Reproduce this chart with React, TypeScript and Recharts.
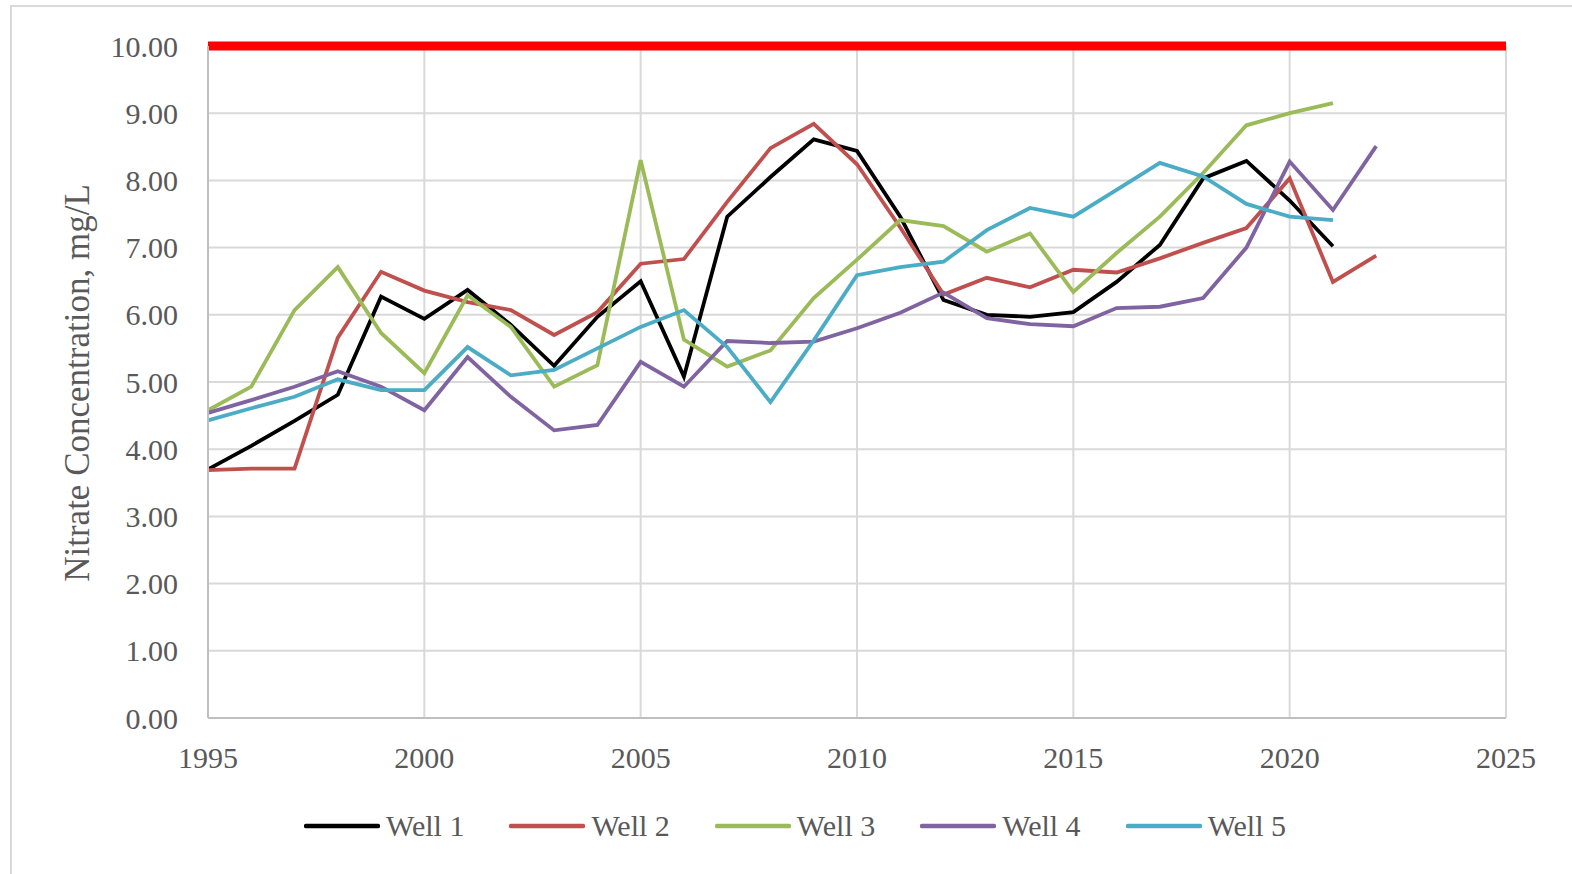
import React from "react";
import {
  CartesianGrid,
  Legend,
  Line,
  LineChart,
  ReferenceLine,
  XAxis,
  YAxis,
} from "recharts";

const years = [
  1995, 1996, 1997, 1998, 1999, 2000, 2001, 2002, 2003, 2004, 2005, 2006, 2007,
  2008, 2009, 2010, 2011, 2012, 2013, 2014, 2015, 2016, 2017, 2018, 2019, 2020,
  2021, 2022,
];

const well1 = [
  3.7, 4.05, 4.42, 4.81, 6.27, 5.94, 6.37, 5.85, 5.24, 5.97, 6.5, 5.08, 7.46,
  8.05, 8.61, 8.44, 7.46, 6.22, 6.0, 5.97, 6.04, 6.49, 7.04, 8.03, 8.29, 7.7,
  7.02, null,
];
const well2 = [
  3.69, 3.71, 3.71, 5.66, 6.64, 6.36, 6.19, 6.07, 5.7, 6.04, 6.76, 6.83, 7.68,
  8.48, 8.84, 8.24, 7.3, 6.3, 6.55, 6.41, 6.67, 6.63, 6.84, 7.07, 7.29, 8.03,
  6.49, 6.88,
];
const well3 = [
  4.58, 4.93, 6.07, 6.71, 5.73, 5.13, 6.29, 5.82, 4.93, 5.25, 8.3, 5.63, 5.23,
  5.47, 6.25, 6.82, 7.41, 7.32, 6.94, 7.21, 6.34, 6.92, 7.46, 8.11, 8.82, 9.0,
  9.15, null,
];
const well4 = [
  4.54, 4.73, 4.93, 5.16, 4.93, 4.58, 5.37, 4.78, 4.28, 4.36, 5.3, 4.93, 5.61,
  5.58, 5.6, 5.8, 6.03, 6.33, 5.95, 5.86, 5.83, 6.1, 6.12, 6.25, 7.0, 8.28,
  7.56, 8.51,
];
const well5 = [
  4.43, 4.61, 4.78, 5.04, 4.88, 4.88, 5.52, 5.1, 5.18, 5.5, 5.82, 6.07, 5.52,
  4.7, 5.62, 6.59, 6.71, 6.79, 7.26, 7.59, 7.46, 7.86, 8.26, 8.06, 7.65, 7.46,
  7.41, null,
];

const xTicks = [1995, 2000, 2005, 2010, 2015, 2020, 2025];
const yTicks = [0, 1, 2, 3, 4, 5, 6, 7, 8, 9, 10];
const limit = 10;

const seriesNames = ["Well 1", "Well 2", "Well 3", "Well 4", "Well 5"];
const seriesColors = ["#000000", "#c0504d", "#9bbb59", "#8064a2", "#4bacc6"];
const seriesValues = [well1, well2, well3, well4, well5];

const chartData = years.map((year, i) => {
  const row: Record<string, number | null> = { year };
  seriesNames.forEach((name, s) => {
    row[name] = seriesValues[s][i];
  });
  return row;
});

const FONT = "'Liberation Serif', 'Times New Roman', serif";
const TEXT = "#595959";

const LegendContent = () => (
  <div style={{ display: "flex", alignItems: "center" }}>
    {seriesNames.map((name, i) => (
      <div
        key={name}
        style={{ display: "flex", alignItems: "center", marginRight: 45 }}
      >
        <svg width={76} height={10}>
          <line
            x1={2}
            y1={5}
            x2={74}
            y2={5}
            stroke={seriesColors[i]}
            strokeWidth={4.5}
            strokeLinecap="round"
          />
        </svg>
        <span
          style={{
            fontFamily: FONT,
            fontSize: 30,
            color: TEXT,
            marginLeft: 6,
            lineHeight: "34px",
          }}
        >
          {name}
        </span>
      </div>
    ))}
  </div>
);

const YLabel = () => (
  <text
    x={77}
    y={383}
    transform="rotate(-90 77 383)"
    textAnchor="middle"
    dominantBaseline="central"
    fill={TEXT}
    fontFamily={FONT}
    fontSize={35}
  >
    Nitrate Concentration, mg/L
  </text>
);

export default function App() {
  return (
    <div
      style={{
        position: "absolute",
        left: 0,
        top: 0,
        width: 1572,
        height: 874,
        background: "#fff",
        overflow: "hidden",
      }}
    >
      <div
        style={{
          position: "absolute",
          left: 10,
          top: 5,
          width: 1600,
          height: 900,
          borderLeft: "2px solid #d9d9d9",
          borderTop: "2px solid #d9d9d9",
        }}
      />
      <div style={{ position: "absolute", left: 0, top: 0 }}>
        <LineChart
          width={1572}
          height={874}
          data={chartData}
          margin={{ top: 46, right: 66, bottom: 0, left: 0 }}
        >
          <CartesianGrid stroke="#d9d9d9" strokeWidth={2} />
          <XAxis
            dataKey="year"
            type="number"
            domain={[1995, 2025]}
            ticks={xTicks}
            height={156}
            tickLine={false}
            tickSize={0}
            tickMargin={29}
            axisLine={{ stroke: "#bfbfbf", strokeWidth: 2 }}
            tick={{ fill: TEXT, fontFamily: FONT, fontSize: 30 }}
            interval={0}
          />
          <YAxis
            type="number"
            domain={[0, 10]}
            ticks={yTicks}
            width={208}
            tickLine={false}
            tickSize={0}
            tickMargin={30}
            axisLine={{ stroke: "#bfbfbf", strokeWidth: 2 }}
            tick={{ fill: TEXT, fontFamily: FONT, fontSize: 30 }}
            tickFormatter={(v: number) => v.toFixed(2)}
            interval={0}
            label={<YLabel />}
          />
          <ReferenceLine y={limit} stroke="#ff0000" strokeWidth={9} />
          {seriesNames.map((name, i) => (
            <Line
              key={name}
              type="linear"
              dataKey={name}
              stroke={seriesColors[i]}
              strokeWidth={3.8}
              dot={false}
              activeDot={false}
              isAnimationActive={false}
            />
          ))}
          <Legend
            layout="horizontal"
            verticalAlign="middle"
            content={<LegendContent />}
            wrapperStyle={{ top: 809, left: 304, width: "auto" }}
          />
        </LineChart>
      </div>
    </div>
  );
}
